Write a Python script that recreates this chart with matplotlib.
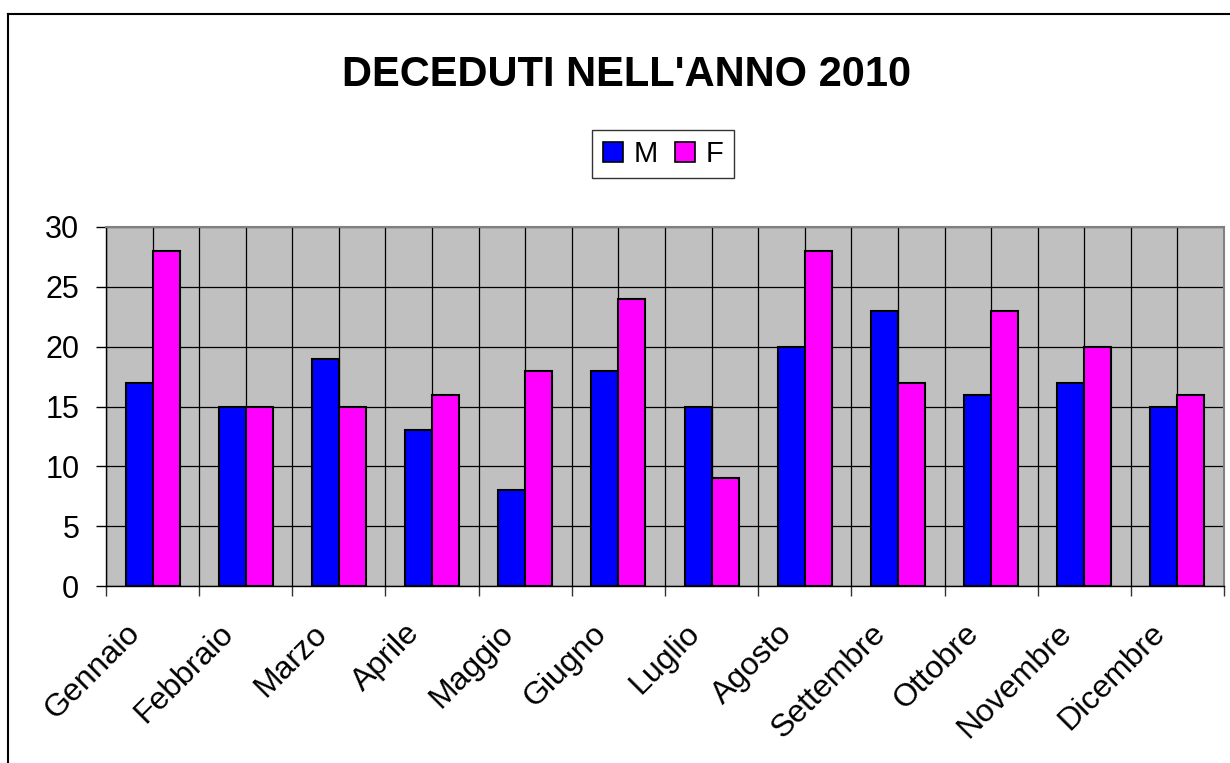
import numpy as np
import matplotlib
matplotlib.use("Agg")
import matplotlib.pyplot as plt
from matplotlib.lines import Line2D

plt.rcParams['font.family'] = ['Liberation Sans', 'DejaVu Sans']

mesi = ['Gennaio', 'Febbraio', 'Marzo', 'Aprile', 'Maggio', 'Giugno',
        'Luglio', 'Agosto', 'Settembre', 'Ottobre', 'Novembre', 'Dicembre']
maschi = [17, 15, 19, 13, 8, 18, 15, 20, 23, 16, 17, 15]
femmine = [28, 15, 15, 16, 18, 24, 9, 28, 17, 23, 20, 16]

fig = plt.figure(figsize=(12.3, 7.63), dpi=100)
ax = fig.add_axes([106/1230, 1 - 586/763, 1118/1230, 359/763])
ax.set_facecolor('#c0c0c0')

x = np.arange(len(mesi))
w = 0.29
ax.bar(x - w/2, maschi, w, color='#0000ff', edgecolor='black', lw=1.5, label='M', zorder=3)
ax.bar(x + w/2, femmine, w, color='#ff00ff', edgecolor='black', lw=1.5, label='F', zorder=3)

ax.set_xlim(-0.5, len(mesi) - 0.5)
ax.set_ylim(0, 30)
ax.set_yticks(range(0, 31, 5))
ax.tick_params(axis='y', labelsize=22, length=7.2, direction='out', width=1, pad=12)

# grid lines: category borders and category centres
ax.set_xticks(x)
ax.set_xticks(np.arange(-0.5, len(mesi)), minor=True)
ax.set_xticklabels([])
ax.tick_params(axis='x', which='major', length=0)
ax.tick_params(axis='x', which='minor', length=7.2, width=1, color='#333333')
ax.grid(True, which='both', axis='x', color='black', lw=0.9, zorder=1)
ax.grid(True, axis='y', color='black', lw=0.9, zorder=1)
ax.set_axisbelow(True)

for xi, m in zip(x, mesi):
    ax.annotate(m, xy=(xi, 0), xycoords=('data', 'axes fraction'),
                xytext=(-12, -31), textcoords='offset points',
                rotation=45, rotation_mode='anchor', ha='right', va='center',
                fontsize=23)

for s in ['left', 'bottom']:
    ax.spines[s].set_color('black')
    ax.spines[s].set_linewidth(1)
for s in ['top', 'right']:
    ax.spines[s].set_color('#808080')
    ax.spines[s].set_linewidth(1.5)

fig.text(627/1230, 1 - 75/763, "DECEDUTI NELL'ANNO 2010", ha='center', va='center',
         fontsize=30, fontweight='bold')

handles = [plt.Rectangle((0, 0), 1, 1, fc='#0000ff', ec='black', lw=1.2),
           plt.Rectangle((0, 0), 1, 1, fc='#ff00ff', ec='black', lw=1.2)]
leg = fig.legend(handles, ['M', 'F'], loc='center', bbox_to_anchor=(663/1230, 1 - 154/763),
                 ncol=2, fontsize=21, frameon=True, fancybox=False, handlelength=0.7,
                 handleheight=0.7, handletextpad=0.35, columnspacing=0.6, borderpad=0.35)
leg.get_frame().set_edgecolor('black')
leg.get_frame().set_linewidth(1)

# outer chart border (only top and left edges visible)
fig.add_artist(Line2D([8/1230, 1], [1 - 14/763] * 2, color='black', lw=1.5))
fig.add_artist(Line2D([8/1230] * 2, [0, 1 - 14/763], color='black', lw=1.5))

fig.savefig('out.png', dpi=100)
